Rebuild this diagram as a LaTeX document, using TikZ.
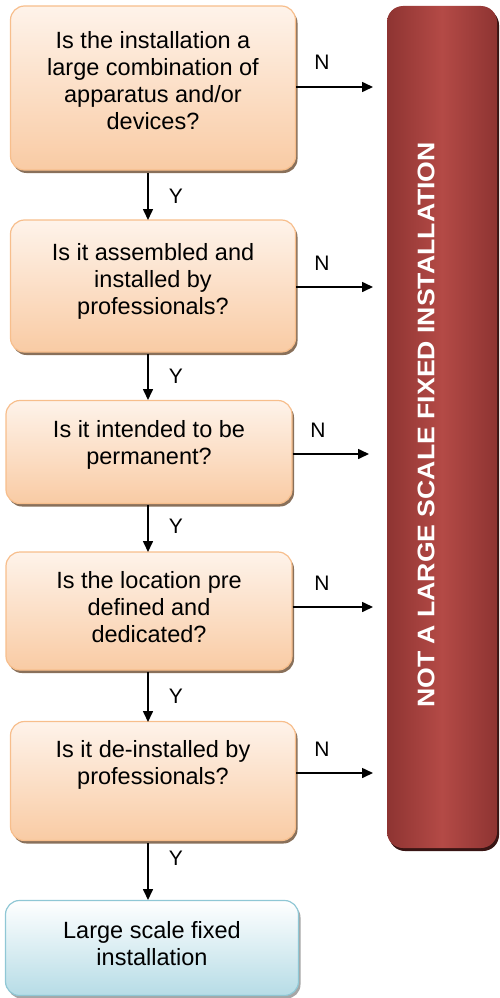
\documentclass[tikz,border=0pt]{standalone}
\usepackage{fontspec}
\setmainfont{Liberation Sans}
\usetikzlibrary{arrows.meta,shadows}
\definecolor{orTop}{HTML}{FEF3EA}
\definecolor{orBot}{HTML}{F9CBA4}
\definecolor{orLine}{HTML}{F7BE8C}
\definecolor{blTop}{HTML}{FFFFFF}
\definecolor{blBot}{HTML}{B6DCE6}
\definecolor{blLine}{HTML}{8FC7D5}
\definecolor{rdEdge}{HTML}{8E3432}
\definecolor{rdMid}{HTML}{B44A46}
\tikzset{
  qbox/.style={rectangle, rounded corners=14pt, draw=orLine, line width=1.2pt,
    top color=orTop, bottom color=orBot,
    drop shadow={shadow xshift=2pt, shadow yshift=-3pt, fill=black!45!orBot, opacity=1}},
  endbox/.style={rectangle, rounded corners=14pt, draw=blLine, line width=1.2pt,
    top color=blTop, bottom color=blBot,
    drop shadow={shadow xshift=2pt, shadow yshift=-3pt, fill=black!35, opacity=1}},
  boxtext/.style={align=center, font=\fontsize{23.5}{27}\selectfont},
  arr/.style={-{Triangle[length=11pt,width=10pt]}, line width=1.6pt},
  lbl/.style={font=\fontsize{21}{24}\selectfont},
}
\begin{document}
\begin{tikzpicture}[x=1pt,y=-1pt]
\useasboundingbox (0,0) rectangle (499,998);
% red side box
\node (red) [rectangle, rounded corners=16pt, minimum width=110pt, minimum height=842pt,
  left color=rdEdge, right color=rdEdge, middle color=rdMid, draw=none,
  drop shadow={shadow xshift=2pt, shadow yshift=-3pt, fill=black!60!rdEdge, opacity=1}]
  at (442,427) {};
\node (redtxt) [rotate=90, text=white, font=\fontsize{24}{28}\selectfont\bfseries] at (426,425)
  {\scalebox{1.11}[1]{NOT A LARGE SCALE FIXED INSTALLATION}};
% question boxes
\node (q1) [qbox, minimum width=285pt, minimum height=164pt] at (153,88) {};
\node (q2) [qbox, minimum width=285pt, minimum height=132pt] at (153,286) {};
\node (q3) [qbox, minimum width=286pt, minimum height=103pt] at (149,452) {};
\node (q4) [qbox, minimum width=286pt, minimum height=118pt] at (149,611) {};
\node (q5) [qbox, minimum width=285pt, minimum height=119pt] at (153,781) {};
\node (fin) [endbox, minimum width=293pt, minimum height=95pt] at (152,948) {};
\node (t1) [boxtext] at (153,81) {Is the installation a\\large combination of\\apparatus and/or\\devices?};
\node (t2) [boxtext] at (153,281) {Is it assembled and\\installed by\\professionals?};
\node (t3) [boxtext] at (149,445) {Is it intended to be\\permanent?};
\node (t4) [boxtext] at (149,607) {Is the location pre\\defined and\\dedicated?};
\node (t5) [boxtext] at (153,765) {Is it de-installed by\\professionals?};
\node (t6) [boxtext] at (152,944) {Large scale fixed\\installation};
% Y arrows
\coordinate (y1s) at (148,173); \coordinate (y1e) at (148,220);
\coordinate (y2s) at (148,354); \coordinate (y2e) at (148,400);
\coordinate (y3s) at (148,505); \coordinate (y3e) at (148,552);
\coordinate (y4s) at (148,672); \coordinate (y4e) at (148,722);
\coordinate (y5s) at (148,843); \coordinate (y5e) at (148,900);
\draw[arr] (y1s) -- (y1e);
\draw[arr] (y2s) -- (y2e);
\draw[arr] (y3s) -- (y3e);
\draw[arr] (y4s) -- (y4e);
\draw[arr] (y5s) -- (y5e);
\node (ly1) [lbl] at (176,196) {Y};
\node (ly2) [lbl] at (176,376) {Y};
\node (ly3) [lbl] at (176,526) {Y};
\node (ly4) [lbl] at (176,696) {Y};
\node (ly5) [lbl] at (176,858) {Y};
% N arrows
\coordinate (n1e) at (373,87);
\coordinate (n2e) at (373,287);
\coordinate (n3e) at (369,454);
\coordinate (n4e) at (373,607);
\coordinate (n5e) at (373,773);
\draw[arr] (q1.east |- n1e) -- (n1e);
\draw[arr] (q2.east |- n2e) -- (n2e);
\draw[arr] (q3.east |- n3e) -- (n3e);
\draw[arr] (q4.east |- n4e) -- (n4e);
\draw[arr] (q5.east |- n5e) -- (n5e);
\node (ln1) [lbl] at (322,62) {N};
\node (ln2) [lbl] at (322,263) {N};
\node (ln3) [lbl] at (318,430) {N};
\node (ln4) [lbl] at (322,583) {N};
\node (ln5) [lbl] at (322,749) {N};
\end{tikzpicture}
\end{document}
